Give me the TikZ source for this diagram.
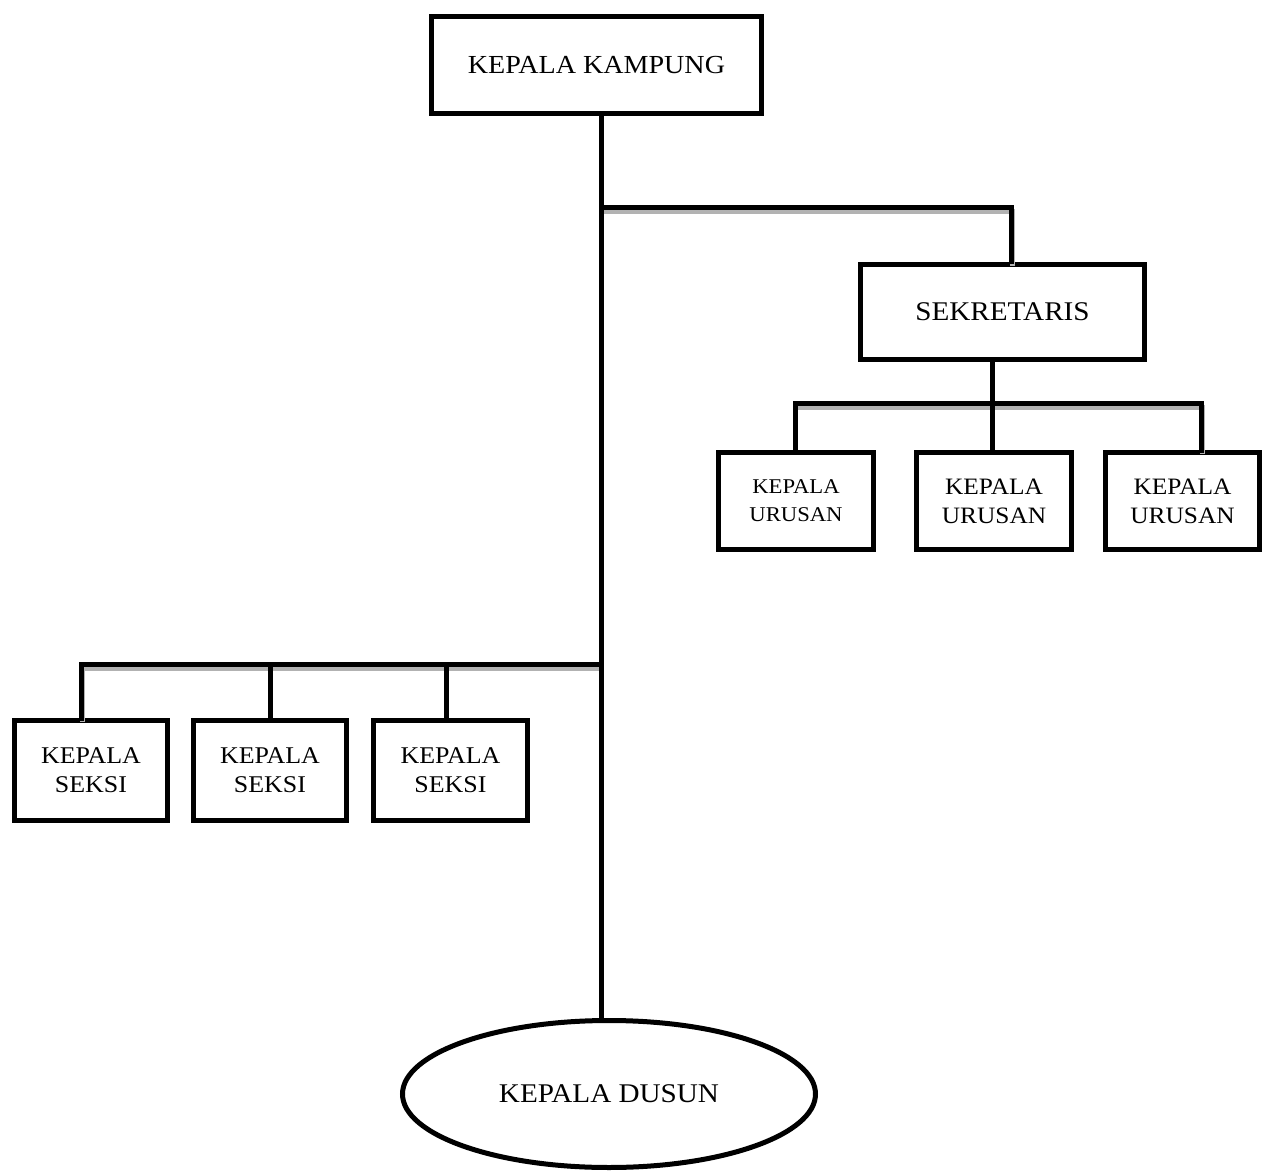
\documentclass[tikz,border=0pt]{standalone}
\usepackage{fontspec}
\setmainfont[FakeStretch=1.08]{Liberation Serif}
\usetikzlibrary{shapes.geometric}
\begin{document}
\begin{tikzpicture}[x=1pt,y=-1pt,
  orgbox/.style={draw, line width=5pt, inner sep=0pt, align=center, fill=white},
  bigtext/.style={font=\fontsize{26}{30}\selectfont},
  sektext/.style={font=\fontsize{27}{30}\selectfont},
  midtext/.style={font=\fontsize{23.5}{29}\selectfont},
  seksitext/.style={font=\fontsize{24}{29}\selectfont},
  smalltext/.style={font=\fontsize{21}{28}\selectfont},
  link/.style={line width=5pt, line join=miter, line cap=rect},
  shade/.style={line width=5pt, draw=gray!60, transform canvas={shift={(1,4)}}}
]
\useasboundingbox (0,0) rectangle (1264,1174);

% nodes
\node[orgbox, bigtext, minimum width=330pt, minimum height=97.5pt] (kk) at (596.5,65) {KEPALA KAMPUNG};
\node[orgbox, sektext, minimum width=284pt, minimum height=95pt] (sek) at (1002.5,312) {SEKRETARIS};
\node[orgbox, smalltext, minimum width=155pt, minimum height=97pt] (ur1) at (796,501) {KEPALA\\URUSAN};
\node[orgbox, midtext, minimum width=155pt, minimum height=97pt] (ur2) at (994,501) {KEPALA\\URUSAN};
\node[orgbox, midtext, minimum width=154pt, minimum height=97pt] (ur3) at (1182.5,501) {KEPALA\\URUSAN};
\node[orgbox, seksitext, minimum width=153pt, minimum height=100pt] (sk1) at (91,770.5) {KEPALA\\SEKSI};
\node[orgbox, seksitext, minimum width=153pt, minimum height=100pt] (sk2) at (270,770.5) {KEPALA\\SEKSI};
\node[orgbox, seksitext, minimum width=154pt, minimum height=100pt] (sk3) at (450.5,770.5) {KEPALA\\SEKSI};
\node[ellipse, draw, line width=5pt, inner sep=0pt, sektext, minimum width=413pt, minimum height=147pt] (dus) at (609,1094) {KEPALA DUSUN};

% junction coordinates
\coordinate (t) at (601,208);
\coordinate (s1) at (1011,208);
\coordinate (u) at (992,403);
\coordinate (u1) at (795,403);
\coordinate (u3) at (1201,403);
\coordinate (l) at (601,664);
\coordinate (l1) at (81,664);
\coordinate (l3) at (446,664);

% shadows
\draw[shade] (t) -- (s1) -- (s1 |- sek.north);
\draw[shade] (u1) -- (u3) -- (u3 |- ur3.north);
\draw[shade] (l) -- (l1) -- (l1 |- sk1.north);

% connectors
\draw[link] (kk.south -| t) -- (t |- dus.north);
\draw[link] (t) -- (s1) -- (s1 |- sek.north);
\draw[link] (sek.south -| u) -- (u);
\draw[link] (u1 |- ur1.north) -- (u1) -- (u3) -- (u3 |- ur3.north);
\draw[link] (u) -- (u |- ur2.north);
\draw[link] (l) -- (l1) -- (l1 |- sk1.north);
\draw[link] (l -| sk2.north) -- (sk2.north);
\draw[link] (l3) -- (l3 |- sk3.north);
\end{tikzpicture}
\end{document}
